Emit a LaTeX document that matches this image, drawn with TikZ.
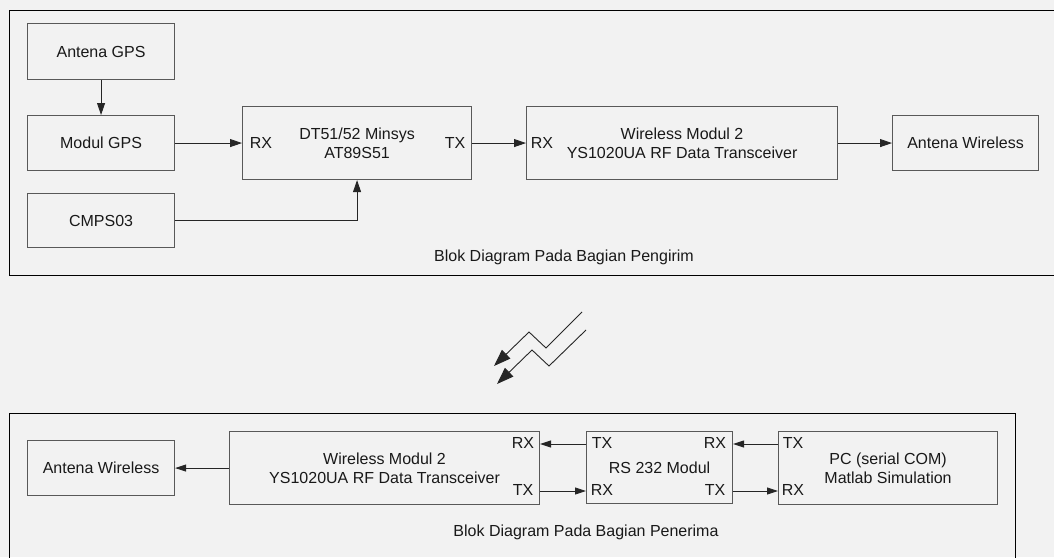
\documentclass[tikz,border=0pt]{standalone}
\usepackage{fontspec}
\setmainfont{Liberation Sans}
\usetikzlibrary{arrows.meta,calc}
\begin{document}
\begin{tikzpicture}[x=1pt,y=-1pt,
  every node/.style={font=\fontsize{16}{19}\selectfont, text=black!90},
  box/.style={draw=black!65, line width=1.1pt, inner sep=0pt, anchor=north west, align=center},
  frame/.style={draw=black, line width=0.9pt},
  arr/.style={draw=black!85, line width=0.9pt, -{Triangle[length=12pt,width=8pt]}},
  arrs/.style={draw=black!85, line width=0.9pt, -{Triangle[length=11pt,width=7pt]}},
  bolt/.style={draw=black!85, line width=0.9pt, -{Triangle[length=17pt,width=12pt]}},
  port/.style={inner sep=0pt}]
\useasboundingbox (0,0) rectangle (1054,557);
\fill[black!5] (0,0) rectangle (1054,557);
% ---------- sender frame ----------
\draw[frame] (1060,10) -- (9,10) -- (9,275) -- (1060,275);
\node[box, minimum width=147pt, minimum height=56pt] (agps) at (27,23) {Antena GPS};
\node[box, minimum width=147pt, minimum height=55pt] (mgps) at (27,115) {Modul GPS};
\node[box, minimum width=147pt, minimum height=54pt] (cmps) at (27,193) {CMPS03};
\node[box, minimum width=229pt, minimum height=73pt] (dt) at (242,106) {DT51/52 Minsys\\AT89S51};
\node[box, minimum width=311pt, minimum height=73pt] (wl) at (526,106) {Wireless Modul 2\\YS1020UA RF Data Transceiver};
\node[box, minimum width=146pt, minimum height=55pt] (aw) at (892,115) {Antena Wireless};
\node[port] (dtrx) at (261,143) {RX};
\node[port] (dttx) at (455,143) {TX};
\node[port] (wlrx) at (542,143) {RX};
\node (cap1) at (564,257) {Blok Diagram Pada Bagian Pengirim};
\draw[arr] (agps.south) -- (mgps.north);
\draw[arr] (mgps.east) -- (dt.west |- mgps.east);
\draw[arr] (cmps.east) -| (dt.south);
\draw[arr] (dt.east) -- (wl.west |- dt.east);
\draw[arr] (wl.east |- aw.west) -- (aw.west);
% ---------- wireless link symbol ----------
\coordinate (b1a) at (582,312); \coordinate (b1b) at (546,348);
\coordinate (b1c) at (529,332); \coordinate (b1d) at (494,366);
\coordinate (b2a) at (586,330); \coordinate (b2b) at (549,366);
\coordinate (b2c) at (532,350); \coordinate (b2d) at (497,384);
\draw[bolt] (b1a) -- (b1b) -- (b1c) -- (b1d);
\draw[bolt] (b2a) -- (b2b) -- (b2c) -- (b2d);
% ---------- receiver frame ----------
\draw[frame] (9,565) -- (9,413) -- (1015,413) -- (1015,565);
\node[box, minimum width=147pt, minimum height=55pt] (aw2) at (27,440) {Antena Wireless};
\node[box, minimum width=310pt, minimum height=73pt] (wl2) at (229,431) {Wireless Modul 2\\YS1020UA RF Data Transceiver};
\node[box, minimum width=146pt, minimum height=72pt] (rs) at (586,431) {RS 232 Modul};
\node[box, minimum width=219pt, minimum height=73pt] (pc) at (778,431) {PC (serial COM)\\Matlab Simulation};
\node[port] (wl2rx) at (523,443) {RX};
\node[port] (wl2tx) at (523,490) {TX};
\node[port] (rstx) at (602,443) {TX};
\node[port] (rsrx) at (602,490) {RX};
\node[port] (rsrx2) at (715,443) {RX};
\node[port] (rstx2) at (715,490) {TX};
\node[port] (pctx) at (793,443) {TX};
\node[port] (pcrx) at (793,490) {RX};
\node (cap2) at (586,532) {Blok Diagram Pada Bagian Penerima};
\coordinate (ya) at (0,444);
\coordinate (yb) at (0,491);
\draw[arrs] (wl2.west |- aw2.east) -- (aw2.east);
\draw[arrs] (rs.west |- ya) -- (wl2.east |- ya);
\draw[arrs] (wl2.east |- yb) -- (rs.west |- yb);
\draw[arrs] (pc.west |- ya) -- (rs.east |- ya);
\draw[arrs] (rs.east |- yb) -- (pc.west |- yb);
\end{tikzpicture}
\end{document}
